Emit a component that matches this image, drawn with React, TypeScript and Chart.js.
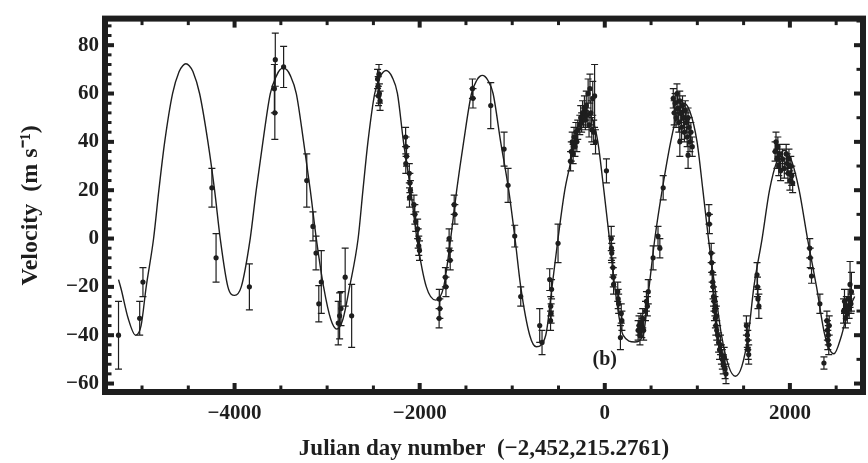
import React, { useEffect, useRef } from 'react';
import { Chart, registerables } from 'chart.js';

Chart.register(...registerables);

// Fitted model curve
const modelX = [
  -5254, -5225, -5150, -5070, -5010, -4955, -4875, -4818, -4755, -4670, -4600, -4560, -4526, -4490, -4450, -4378,
  -4288, -4216, -4155, -4072, -4000, -3928, -3831, -3766, -3694, -3614, -3545, -3510, -3473, -3436, -3400, -3333,
  -3254, -3182, -3117, -3038, -2960, -2895, -2830, -2757, -2665, -2613, -2559, -2486, -2425, -2393, -2363, -2333,
  -2300, -2240, -2175, -2097, -2030, -1928, -1825, -1741, -1665, -1600, -1525, -1440, -1380, -1350, -1323, -1296,
  -1265, -1207, -1125, -1038, -970, -908, -811, -739, -638, -570, -505, -432, -378, -324, -270, -200,
  -130, -75, -10, 50, 108, 198, 324, 414, 479, 541, 620, 712, 790, 855, 920, 997,
  1060, 1120, 1189, 1261, 1340, 1410, 1480, 1550, 1611, 1700, 1780, 1860, 1940, 2020, 2100, 2190,
  2288, 2378, 2476, 2559, 2620, 2700,
];
const modelY = [
  -17, -21, -33, -40, -36, -20, 0, 20, 40, 60, 69, 71.5, 72.3, 71.5, 69.1, 60,
  40, 20, 0, -20, -23.5, -20, 0, 20, 40, 60, 67.5, 69.8, 70.5, 69.8, 67.6, 60,
  40, 20, 0, -20, -33.5, -37.5, -33.5, -20, 0, 20, 40, 60, 67.1, 68.9, 69.5, 68.9,
  67, 60, 40, 20, 0, -20, -25.5, -20, 0, 20, 40, 60, 65.7, 67.1, 67.5, 67.1,
  65.6, 60, 40, 20, 0, -20, -40, -44.8, -40, -20, 0, 20, 30, 40, 49, 53,
  49, 40, 20, 0, -20, -40, -42.8, -40, -20, 0, 20, 40, 52.6, 56, 52.6, 40,
  20, 0, -20, -40, -53, -57, -53, -40, -20, 0, 20, 32, 36.5, 32, 20, 0,
  -20, -40, -47.7, -40, -31, -24,
];

// Observed velocities with error bars
const obsX = [
  -5254, -5025, -4990, -4245, -4200, -3840, -3560, -3570, -3565, -3470, -3220, -3153, -3120, -3063, -3090, -2880,
  -2865, -2850, -2805, -2735,
  -2455, -2448, -2440, -2435, -2428, -2445,
  -2152, -2147, -2142, -2150, -2112, -2106, -2100, -2110, -2062, -2052, -2043, -2022, -2016, -2010, -2002,
  -1788, -1782, -1790, -1722, -1716, -1682, -1676, -1670, -1627, -1620,
  -1430, -1424, -1232, -1088, -1045, -973, -908, -703, -678, -595, -584, -580, -586, -575, -505,
  -370, -362, -352, -342, -332, -322, -312, -302, -292,
  -270, -260, -250, -240, -230, -220, -210, -200, -190, -180, -170, -160, -150, -140, -130, -120, -110, -100,
  18, 70, 72, 75, 88, 92, 95, 140, 145, 150, 178, 185, 169,
  360, 370, 380, 390, 400, 410, 420, 440, 450, 460, 470, 522, 575,
  595, 631,
  740, 750, 760, 770, 780, 790, 800, 810, 820, 830, 840, 850, 860, 870, 880, 890, 900, 910, 920, 930, 945, 811, 900,
  1125, 1130, 1150, 1155, 1160, 1165, 1170, 1175, 1180, 1185, 1190, 1195, 1200, 1205, 1210, 1220, 1230, 1240, 1250,
  1260, 1270, 1280, 1290, 1300, 1310,
  1530, 1540, 1545, 1550, 1555, 1645, 1650, 1655, 1665,
  1840, 1850, 1860, 1870, 1880, 1890, 1900, 1920, 1940, 1960, 1970, 1980, 1990, 2000, 2010, 2020, 2030,
  2215, 2220, 2234, 2324, 2400, 2405, 2410, 2415, 2420, 2425, 2368,
  2580, 2590, 2600, 2610, 2620, 2630, 2640, 2650, 2660, 2665,
];
const obsY = [
  -40, -33, -18, 21, -8, -20, 74, 62, 52, 71, 24, 5, -6, -18, -27, -35,
  -32, -29, -16, -32,
  66, 63, 68, 60, 57, 59,
  42, 38, 34, 31, 27, 23, 20, 17, 14, 10, 7, 4, 0, -3, -5,
  -25, -29, -33, -16, -20, 0, -5, -9, 14, 10,
  62, 58, 55, 37, 22, 1, -24, -36, -43, -17, -28, -31, -34, -21, -2,
  32, 36, 40, 35, 42, 38, 44, 40, 45,
  47, 50, 48, 52, 50, 54, 49, 55, 51, 60, 47, 62, 52, 45, 58, 44, 59, 40,
  28, 0, -4, -6, -12, -16, -19, -22, -25, -27, -31, -34, -41,
  -38, -36, -40, -35, -37, -33, -38, -30, -26, -28, -22, -8, 1,
  -4, 21,
  58, 52, 56, 50, 60, 54, 48, 57, 52, 46, 55, 50, 44, 53, 48, 42, 50, 46, 40, 44, 38, 40, 34.5,
  10, 6, -6, -10, -14, -18, -20, -24, -26, -30, -28, -33, -36, -32, -38, -40, -43, -46, -44,
  -48, -50, -52, -49, -54, -56,
  -36, -40, -42, -46, -48, -15, -20, -25, -28,
  36, 40, 33, 38, 30, 35, 28, 33, 29, 35, 31, 27, 33, 24, 30, 26, 23,
  -4, -8, -15.5, -27, -34, -38, -42, -40, -44, -36, -51.5,
  -30, -26, -33, -28, -31, -25, -29, -19, -27, -22,
];
const obsErr = [
  14, 7, 6, 8, 10, 9.5, 11, 10, 11, 8.5, 11, 6, 7, 13, 7.5, 9,
  9.5, 7, 12, 13,
  4, 4, 4, 4, 4, 4,
  4, 4, 4, 4, 4, 4, 4, 4, 4, 4, 4, 4, 4, 4, 4,
  4, 4, 4, 4, 4, 4, 4, 4, 4, 4,
  4, 4, 9.5, 7, 7, 4.5, 4, 7, 5, 4.5, 4, 4, 4, 4, 8,
  4, 4, 4, 4, 4, 4, 4, 4, 4,
  4, 5, 4, 5, 4, 5, 4, 6, 5, 6, 5, 6, 5, 5, 7, 5, 13, 5,
  5, 5, 5, 4, 4, 4, 4, 4, 4, 4, 4, 4, 5,
  4, 4, 4, 4, 4, 4, 4, 4, 4, 4, 5, 5, 4,
  4, 5,
  4, 5, 4, 4, 4, 5, 4, 4, 4, 5, 4, 4, 4, 4, 4, 4, 4, 4, 4, 4, 4, 6, 5.5,
  4, 4, 4, 4, 4, 4, 5, 4, 4, 4, 4, 4, 4, 4, 4, 4, 4, 4, 4,
  4, 4, 4, 4, 4, 4,
  4, 5, 4, 4, 4, 5, 4, 4, 5,
  4, 4, 4, 4, 4, 4, 4, 4, 4, 4, 4, 4, 4, 4, 4, 4, 4,
  4, 4, 3, 4, 4, 4, 4, 4, 4, 4, 2.5,
  5, 5, 4, 4, 4, 4, 4, 9.5, 4, 8,
];

const xTickValues = [-4000, -2000, 0, 2000];
const yTickValues = [-60, -40, -20, 0, 20, 40, 60, 80];
const xRange = [-5400, 2790];
const yRange = [-63.5, 91];
const xTitle = 'Julian day number  (\u22122,452,215.2761)';
const yTitle = 'Velocity  (m s\u207B\u00B9)';
const panelLabel = '(b)';
const panelLabelAt = [0, -50];

export default function App() {
  const ref = useRef<HTMLCanvasElement>(null);

  useEffect(() => {
    const canvas = ref.current!;
    const ink = '#1e1e1e';
    const serif = '"Liberation Serif", "Times New Roman", serif';
    const fmt = (v: number) => (v < 0 ? '\u2212' + Math.abs(v) : String(v));
    const fw = 6;

    const errorBars = {
      id: 'errorBars',
      beforeDatasetsDraw(chart: any) {
        const { ctx, chartArea: a, scales } = chart;
        const xs = scales.x;
        const ys = scales.y;
        ctx.save();
        ctx.beginPath();
        ctx.rect(a.left, a.top, a.right - a.left, a.bottom - a.top);
        ctx.clip();
        ctx.strokeStyle = ink;
        ctx.lineWidth = 1.2;
        ctx.beginPath();
        for (let i = 0; i < obsX.length; i++) {
          const px = xs.getPixelForValue(obsX[i]);
          const y1 = ys.getPixelForValue(obsY[i] - obsErr[i]);
          const y2 = ys.getPixelForValue(obsY[i] + obsErr[i]);
          ctx.moveTo(px, y1);
          ctx.lineTo(px, y2);
          ctx.moveTo(px - 3.5, y1);
          ctx.lineTo(px + 3.5, y1);
          ctx.moveTo(px - 3.5, y2);
          ctx.lineTo(px + 3.5, y2);
        }
        ctx.stroke();
        ctx.restore();
      },
    };

    const frame = {
      id: 'frame',
      afterDraw(chart: any) {
        const { ctx, chartArea: a, scales } = chart;
        const xs = scales.x;
        const ys = scales.y;
        ctx.save();
        ctx.fillStyle = ink;
        ctx.strokeStyle = ink;
        for (let v = Math.ceil(xs.min / 500) * 500; v <= xs.max; v += 500) {
          const p = xs.getPixelForValue(v);
          const major = v % 2000 === 0;
          const w = major ? 4 : 3;
          const len = fw / 2 + (major ? 6 : 3.5);
          ctx.fillRect(p - w / 2, a.bottom - len, w, len);
          ctx.fillRect(p - w / 2, a.top, w, len);
        }
        for (let v = Math.ceil(ys.min / 4) * 4; v <= ys.max; v += 4) {
          const p = ys.getPixelForValue(v);
          const major = v % 20 === 0;
          const w = major ? 4 : 3;
          const len = fw / 2 + (major ? 6 : 3.5);
          ctx.fillRect(a.left, p - w / 2, len, w);
        }
        for (let v = Math.ceil(ys.min / 10) * 10; v <= ys.max; v += 10) {
          const p = ys.getPixelForValue(v);
          const major = v % 20 === 0;
          const w = major ? 4 : 3;
          const len = fw / 2 + (major ? 6 : 3.5);
          ctx.fillRect(a.right - len, p - w / 2, len, w);
        }
        ctx.lineWidth = fw;
        ctx.strokeRect(a.left, a.top, a.right - a.left, a.bottom - a.top);
        ctx.font = `bold 20px ${serif}`;
        ctx.textAlign = 'center';
        ctx.textBaseline = 'middle';
        ctx.fillText(panelLabel, xs.getPixelForValue(panelLabelAt[0]), ys.getPixelForValue(panelLabelAt[1]));
        ctx.restore();
      },
    };

    const chart = new Chart(canvas, {
      type: 'scatter',
      data: {
        datasets: [
          {
            type: 'line',
            data: modelX.map((x, i) => ({ x, y: modelY[i] })),
            borderColor: ink,
            borderWidth: 1.4,
            pointRadius: 0,
            cubicInterpolationMode: 'monotone',
            fill: false,
          } as any,
          {
            type: 'scatter',
            data: obsX.map((x, i) => ({ x, y: obsY[i] })),
            backgroundColor: ink,
            borderColor: ink,
            borderWidth: 0,
            pointRadius: 2.6,
          } as any,
        ],
      },
      options: {
        animation: false,
        responsive: false,
        devicePixelRatio: 1,
        events: [],
        layout: { autoPadding: false, padding: { top: 11, right: 5, left: 0, bottom: 0 } },
        plugins: { legend: { display: false }, tooltip: { enabled: false } },
        scales: {
          x: {
            type: 'linear',
            position: 'bottom',
            min: xRange[0],
            max: xRange[1],
            grid: { display: false, drawTicks: false },
            border: { display: false },
            afterBuildTicks: (s: any) => {
              s.ticks = xTickValues.map((v) => ({ value: v }));
            },
            afterFit: (s: any) => {
              s.height = 71;
            },
            ticks: {
              color: ink,
              padding: 9,
              maxRotation: 0,
              autoSkip: false,
              font: { family: serif, weight: 'bold', size: 21 },
              callback: (v: any) => fmt(Number(v)),
            },
            title: {
              display: true,
              text: xTitle,
              color: ink,
              font: { family: serif, weight: 'bold', size: 23 },
              padding: { top: 0, bottom: 0 },
            },
          },
          y: {
            type: 'linear',
            min: yRange[0],
            max: yRange[1],
            grid: { display: false, drawTicks: false },
            border: { display: false },
            afterBuildTicks: (s: any) => {
              s.ticks = yTickValues.map((v) => ({ value: v }));
            },
            afterFit: (s: any) => {
              s.width = 105;
            },
            ticks: {
              color: ink,
              padding: 6,
              autoSkip: false,
              font: { family: serif, weight: 'bold', size: 21 },
              callback: (v: any) => fmt(Number(v)),
            },
            title: {
              display: true,
              text: yTitle,
              color: ink,
              font: { family: serif, weight: 'bold', size: 24 },
              padding: { top: 16, bottom: 0 },
            },
          },
        },
      } as any,
      plugins: [errorBars, frame],
    });

    return () => chart.destroy();
  }, []);

  return (
    <div style={{ position: 'absolute', left: 0, top: 0, width: 868, height: 463, background: '#fff' }}>
      <canvas ref={ref} width={868} height={463} style={{ display: 'block' }} />
    </div>
  );
}
